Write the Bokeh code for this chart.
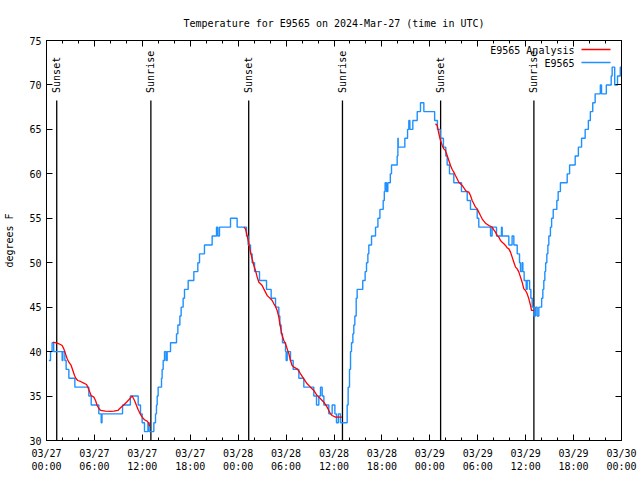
import numpy as np
import pandas as pd
from math import pi
from bokeh.plotting import figure
from bokeh.models import (Range1d, FixedTicker, DatetimeAxis, LinearAxis,
                          DatetimeTickFormatter, Label, Arrow, ColumnDataSource,
                          CustomJSTickFormatter)
from bokeh.core.properties import value
from bokeh.embed import file_html
from bokeh.resources import INLINE

START = pd.Timestamp("2024-03-27 00:00")
END = pd.Timestamp("2024-03-30 00:00")

# ---- observed station temps (hours after 03/27 00:00 UTC, degF) ----
obs_hours = [0.29, 0.5, 0.7, 0.9, 1.96, 2.05, 2.3, 2.46, 2.8, 3.55, 5.3, 5.6, 6.55, 6.85, 6.95,
             9.52, 10.5, 11.48, 11.77, 11.98, 12.27, 12.7, 12.85,
             13.44, 13.65, 13.77, 13.86, 13.98, 14.4, 14.48, 14.61, 14.78, 14.98, 15.11, 15.53,
             16.28, 16.45, 16.7, 16.86, 17.11, 17.28, 17.74, 18.45, 18.95, 19.16, 19.78, 20.74,
             21.29, 21.45, 21.66, 23.04, 23.87,
             25.04, 25.25, 25.55, 25.75, 26.05, 26.67, 27.55, 28.13, 28.68, 29.09, 29.22, 29.38,
             29.55, 29.93, 30.01, 30.14, 30.55, 30.89, 31.6, 32.22, 33.47, 33.81, 34.1, 34.31,
             34.52, 34.73, 35.35, 35.77, 36.11, 36.31, 36.55, 36.81,
             37.65, 37.77, 37.94, 38.07, 38.19, 38.36, 38.48, 38.61, 38.78, 38.9, 39.6, 39.9,
             40.07, 40.24, 40.36, 40.7, 41.2, 41.5, 41.75, 42.16, 42.3, 42.4, 42.58, 42.74,
             43.05, 43.2, 43.91, 44.0, 44.04, 44.87, 45.21, 45.37, 45.5, 45.87, 46.42, 46.83,
             47.25, 48.6, 48.95, 49.3, 49.7, 50.0, 50.17, 50.46, 51.0, 51.96, 52.68, 53.09,
             53.93, 54.13, 55.6, 55.8, 56.35, 56.97, 57.06, 57.89, 58.3, 58.52, 58.94, 59.23,
             59.35, 59.56, 59.65, 59.81, 60.07, 60.19, 60.49, 60.65, 60.82, 61.03, 61.24, 61.44,
             61.65, 61.86, 62.0, 62.15, 62.27, 62.4, 62.5, 62.65, 62.78, 62.9, 63.1, 63.25,
             63.45, 63.9, 64.07, 64.35, 65.2, 65.5, 66.2, 66.6, 67.0, 67.45, 67.85, 68.1,
             68.4, 68.7, 69.35, 69.5, 70.1, 70.71, 70.83, 71.15, 71.5, 71.85, 72.0]
obs_temps = [39, 40, 41, 40, 39, 40, 39, 38, 37, 36, 35, 34, 33, 32, 33,
             34, 35, 34, 33, 32, 31, 32, 31,
             32, 33, 34, 35, 36, 37, 38, 39, 40, 39, 40, 41,
             42, 43, 44, 45, 46, 47, 48, 49, 50, 51, 52, 53,
             54, 53, 54, 55, 54,
             53, 52, 51, 50, 49, 48, 47, 46, 45, 44, 43, 42,
             41, 40, 39, 40, 39, 38, 37, 36, 35, 34, 35, 36,
             35, 34, 33, 34, 33, 32, 33, 32,
             34, 36, 38, 40, 41, 42, 43, 44, 46, 47, 48, 49,
             50, 51, 52, 53, 54, 55, 56, 57, 58, 59, 58, 59,
             60, 61, 62, 64, 63, 64, 65, 66, 65, 66, 67, 68,
             67, 66, 65, 64, 63, 62, 61, 60, 59, 58, 57, 56,
             55, 54, 53, 54, 53, 54, 53, 52, 53, 52, 51, 50,
             49, 50, 49, 48, 47, 48, 47, 46, 45, 44, 45, 44,
             45, 45, 46, 47, 48, 49, 50, 51, 52, 53, 54, 55,
             56, 57, 58, 59, 60, 61, 62, 63, 64, 65, 66, 67,
             68, 69, 70, 69, 70, 71, 72, 70, 71, 72, 72]

# ---- analysis temps, three overnight runs ----
ana1_hours = [0.8, 1.34, 1.75, 1.96, 2.17, 2.38, 2.59, 2.8, 3.09, 3.3, 3.51, 3.71, 3.92, 4.26,
              4.67, 5.01, 5.18, 5.43, 5.59, 5.93, 6.14, 6.34, 6.55, 6.76, 7.39, 8.01, 8.43,
              8.93, 9.27, 9.6, 10.02, 10.31, 10.52, 10.73, 11.02, 11.27, 11.48, 11.77, 11.98,
              12.27, 12.6, 12.81, 12.92]
ana1_temps = [41.06, 40.95, 40.8, 40.69, 40.31, 39.75, 39.19, 38.81, 38.44, 37.87, 37.31, 36.94,
              36.75, 36.64, 36.45, 36.3, 36.0, 35.44, 35.06, 34.88, 34.5, 33.94, 33.64, 33.38,
              33.3, 33.27, 33.3, 33.38, 33.68, 33.94, 34.31, 34.58, 34.8, 35.0, 34.5, 33.94,
              33.45, 32.93, 32.63, 32.33, 32.18, 31.95, 31.6]
ana2_hours = [24.71, 24.92, 25.21, 25.34, 25.55, 25.75, 25.96, 26.17, 26.38, 26.59, 26.8, 27.0,
              27.21, 27.42, 27.63, 27.84, 28.05, 28.26, 28.47, 28.68, 28.88, 29.09, 29.22,
              29.38, 29.51, 29.72, 29.93, 30.14, 30.35, 30.55, 30.76, 30.97, 31.39, 31.6, 31.81,
              32.22, 32.64, 33.06, 33.47, 33.89, 34.31, 34.73, 35.14, 35.35, 35.56, 35.77,
              36.19, 36.6, 37.0]
ana2_temps = [54.0, 53.81, 52.69, 52.13, 51.19, 50.44, 49.69, 49.13, 48.38, 47.81, 47.63, 47.44,
              47.06, 46.69, 46.31, 46.13, 45.94, 45.75, 45.38, 45.08, 44.63, 43.88, 43.13,
              42.38, 41.81, 41.25, 40.88, 40.31, 39.75, 39.0, 38.44, 38.25, 38.06, 37.8, 37.5,
              36.94, 36.38, 36.0, 35.63, 35.06, 34.69, 34.31, 33.75, 33.38, 33.0, 32.81,
              32.63, 32.63, 32.63]
ana3_hours = [48.71, 48.92, 49.13, 49.34, 49.55, 49.75, 49.96, 50.17, 50.38, 50.59, 50.8, 51.0,
              51.21, 51.42, 51.63, 51.84, 52.05, 52.26, 52.46, 52.68, 52.88, 53.09, 53.3,
              53.51, 53.72, 53.93, 54.13, 54.34, 54.55, 54.76, 54.97, 55.39, 55.8, 56.01,
              56.22, 56.43, 56.64, 56.85, 57.06, 57.27, 57.48, 57.68, 57.89, 58.1, 58.31,
              58.52, 58.73, 58.94, 59.15, 59.35, 59.56, 59.77, 59.98, 60.19, 60.4, 60.61,
              60.73, 61.07]
ana3_temps = [65.63, 65.44, 64.5, 63.75, 63.19, 62.81, 62.63, 62.06, 61.5, 60.94, 60.49, 60.19,
              59.81, 59.44, 59.06, 58.88, 58.69, 58.43, 58.13, 58.01, 57.94, 57.56, 57.0,
              56.63, 56.25, 56.06, 55.69, 55.31, 54.94, 54.68, 54.45, 54.19, 54.0, 53.7,
              53.44, 53.06, 52.88, 52.5, 52.31, 52.13, 51.94, 51.68, 51.56, 51.19, 50.63,
              50.06, 49.5, 49.31, 48.94, 48.38, 47.81, 47.06, 46.88, 46.5, 45.94, 45.19,
              44.63, 44.63]

# ---- sun events ----
event_hours = [1.28, 13.07, 25.32, 37.06, 49.35, 61.03]
event_names = ["Sunset", "Sunrise", "Sunset", "Sunrise", "Sunset", "Sunrise"]

title_text = "Temperature for E9565 on 2024-Mar-27 (time in UTC)"
y_label = "degrees F"
name_ana = "E9565 Analysis"
name_obs = "E9565"

FONT = "DejaVu Sans Mono"
BLUE = "#1E90FF"
RED = "#FF0000"
LINE_TOP = 68.25
LABEL_Y = 69.1


def to_time(h):
    return START + pd.to_timedelta(np.asarray(h, dtype=float), unit="h")


p = figure(width=640, height=480, x_axis_type="datetime",
           x_range=Range1d(START, END), y_range=Range1d(30, 75),
           output_backend="svg", toolbar_location=None,
           min_border_left=46, min_border_right=19, min_border_top=40, min_border_bottom=40,
           title=title_text, x_axis_location="below")
p.title.align = "center"
p.title.text_font = FONT
p.title.text_font_size = "10px"
p.title.text_font_style = "normal"
p.title.text_color = "black"
p.title.standoff = 23
p.background_fill_color = "white"
p.border_fill_color = "white"
p.outline_line_color = "black"
p.outline_line_width = 1
p.xgrid.visible = False
p.ygrid.visible = False

major_ms = [(START + pd.Timedelta(hours=6 * k)).value / 1e6 for k in range(13)]
minor_ms = [(START + pd.Timedelta(hours=2 * k)).value / 1e6 for k in range(37)]
xticker = FixedTicker(ticks=major_ms, minor_ticks=minor_ms)
yticker = FixedTicker(ticks=list(range(30, 80, 5)), minor_ticks=[])
fmt_str = "%m/%d\n%H:%M"
xfmt = DatetimeTickFormatter(microseconds=fmt_str, milliseconds=fmt_str, seconds=fmt_str,
                             minsec=fmt_str, minutes=fmt_str, hourmin=fmt_str, hours=fmt_str,
                             days=fmt_str, months=fmt_str, years=fmt_str)
blank_fmt = CustomJSTickFormatter(code="return ''")


def style_axis(ax, labels=True):
    ax.axis_line_color = "black"
    ax.major_tick_line_color = "black"
    ax.minor_tick_line_color = "black"
    ax.major_tick_in = 6
    ax.major_tick_out = 0
    ax.minor_tick_in = 3
    ax.minor_tick_out = 0
    ax.major_label_text_font = FONT
    ax.major_label_text_color = "black"
    ax.major_label_text_font_size = "10px"
    if not labels:
        ax.formatter = blank_fmt
        ax.major_label_standoff = 0


xa = p.xaxis[0]
xa.ticker = xticker
xa.formatter = xfmt
style_axis(xa)
xa.major_label_standoff = 7

ya = p.yaxis[0]
ya.ticker = yticker
style_axis(ya)
ya.major_label_standoff = 5
ya.axis_label = y_label
ya.axis_label_text_font = FONT
ya.axis_label_text_font_size = "10px"
ya.axis_label_text_font_style = "normal"
ya.axis_label_text_color = "black"
ya.axis_label_standoff = 11

top_ax = DatetimeAxis(ticker=xticker)
style_axis(top_ax, labels=False)
p.add_layout(top_ax, "above")
right_ax = LinearAxis(ticker=yticker)
style_axis(right_ax, labels=False)
p.add_layout(right_ax, "right")

# sunrise / sunset markers
ev_src = ColumnDataSource(dict(t=to_time(event_hours), name=event_names,
                               y0=[30] * len(event_hours), y1=[LINE_TOP] * len(event_hours),
                               ly=[LABEL_Y] * len(event_hours)))
p.segment(x0="t", y0="y0", x1="t", y1="y1", source=ev_src, line_color="black", line_width=1.3)
p.text(x="t", y="ly", text="name", source=ev_src, angle=pi / 2, text_align="left",
       text_baseline="middle", text_font=value(FONT), text_font_size="10px", text_color="black")

# observations (stair steps) and analysis
p.step(to_time(obs_hours), obs_temps, mode="after", line_color=BLUE, line_width=1.4)
for hh, tt in [(ana1_hours, ana1_temps), (ana2_hours, ana2_temps), (ana3_hours, ana3_temps)]:
    p.line(to_time(hh), tt, line_color=RED, line_width=1.3)

# manual key, top right (label left of sample line)
for i, (txt, col) in enumerate([(name_ana, RED), (name_obs, BLUE)]):
    yy = 390 - 13 * i
    p.add_layout(Label(x=528, y=yy, x_units="screen", y_units="screen", text=txt,
                       text_font=FONT, text_font_size="10px", text_align="right",
                       text_baseline="middle", text_color="black"))
    p.add_layout(Arrow(x_start=535, y_start=yy + 1, x_end=564, y_end=yy + 1,
                       start_units="screen", end_units="screen", end=None,
                       line_color=col, line_width=1.3))

open("out.html", "w").write(file_html(p, INLINE))
